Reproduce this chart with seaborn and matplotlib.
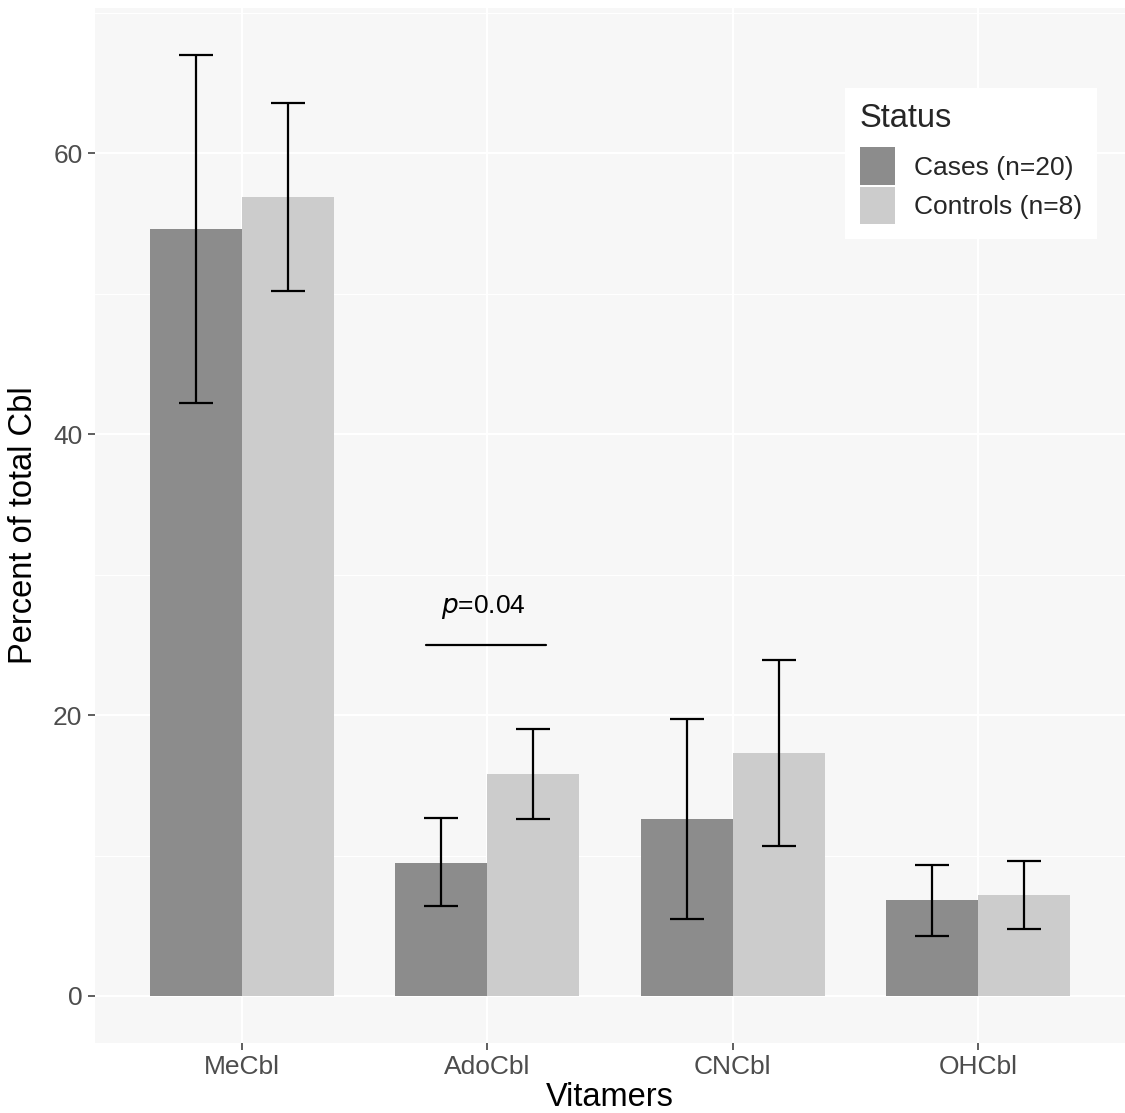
import matplotlib
matplotlib.use("Agg")
import matplotlib.pyplot as plt
import seaborn as sns
import pandas as pd
import numpy as np
from matplotlib.patches import Patch

# ---- data ----
vitamers = ["MeCbl", "AdoCbl", "CNCbl", "OHCbl"]
status_levels = ["Cases (n=20)", "Controls (n=8)"]
cases_mean = [54.6, 9.5, 12.6, 6.8]
cases_low = [42.2, 6.4, 5.5, 4.3]
cases_high = [67.0, 12.7, 19.7, 9.3]
controls_mean = [56.9, 15.8, 17.3, 7.2]
controls_low = [50.2, 12.6, 10.7, 4.8]
controls_high = [63.6, 19.0, 23.9, 9.6]
y_ticks = [0, 20, 40, 60]
sig_x = [0.75, 1.24]
sig_y = 25.0
sig_text_y = 27.7
sig_label = "=0.04"

df = pd.DataFrame({
    "Vitamers": vitamers * 2,
    "Status": [status_levels[0]] * 4 + [status_levels[1]] * 4,
    "value": cases_mean + controls_mean,
    "low": cases_low + controls_low,
    "high": cases_high + controls_high,
})

colors = ["#8C8C8C", "#CCCCCC"]

sns.set_theme(style="white")
plt.rcParams["font.family"] = ["Liberation Sans", "DejaVu Sans"]

fig = plt.figure(figsize=(11.25, 11.13), dpi=100)
W, H = 1125, 1113
left, right, top, bottom = 95, 1125, 8, 1043
ax = fig.add_axes([left / W, 1 - bottom / H, (right - left) / W, (bottom - top) / H])
ax.set_facecolor("#F7F7F7")

sns.barplot(data=df, x="Vitamers", y="value", hue="Status", order=vitamers,
            hue_order=status_levels, palette=colors, width=0.75, gap=0,
            errorbar=None, ax=ax, legend=False, saturation=1, linewidth=0)

# error bars at bar centers
for container, lows, highs, means in zip(ax.containers,
                                          [cases_low, controls_low],
                                          [cases_high, controls_high],
                                          [cases_mean, controls_mean]):
    xs = [p.get_x() + p.get_width() / 2 for p in container.patches]
    m = np.array(means)
    yerr = [m - np.array(lows), np.array(highs) - m]
    ax.errorbar(xs, m, yerr=yerr, fmt="none", ecolor="black", elinewidth=1.6,
                capsize=12, capthick=1.6, zorder=3)

# significance annotation
ax.plot(sig_x, [sig_y, sig_y], color="black", lw=1.6, zorder=3)
ax.text(np.mean(sig_x) - 0.01, sig_text_y, r"$\mathit{p}$" + sig_label, ha="center",
        va="center", fontsize=19, color="black")

# limits like ggplot expansion
ymin, ymax = 0, max(cases_high + controls_high)
rng = ymax - ymin
ax.set_ylim(ymin - 0.05 * rng, ymax + 0.05 * rng)
ax.set_xlim(-0.6, len(vitamers) - 1 + 0.6)

# grid
ax.set_yticks(y_ticks)
ax.set_yticks([10, 30, 50, 70], minor=True)
ax.grid(True, which="major", axis="both", color="white", lw=1.6, zorder=0)
ax.grid(True, which="minor", axis="y", color="white", lw=0.8, zorder=0)
ax.set_axisbelow(True)
for s in ax.spines.values():
    s.set_visible(False)

ax.tick_params(axis="both", which="major", length=5, width=1.1, color="#333333",
               labelsize=19, labelcolor="#4D4D4D", pad=4, bottom=True, left=True)
ax.tick_params(axis="both", which="minor", length=0)

ax.set_xlabel("Vitamers", fontsize=23.5, color="black", labelpad=2)
ax.set_ylabel("Percent of total Cbl", fontsize=23.5, color="black", labelpad=10)

handles = [Patch(facecolor=c, edgecolor="none") for c in colors]
leg = ax.legend(handles, status_levels, title="Status", loc="upper left",
                bbox_to_anchor=((845 - left) / (right - left), (bottom - 88) / (bottom - top)),
                fontsize=19, title_fontsize=23.5, frameon=True, fancybox=False,
                facecolor="white", edgecolor="white", framealpha=1,
                handlelength=1.36, handleheight=1.8, handletextpad=0.7,
                labelspacing=0.08, borderpad=0.55, borderaxespad=0)
leg._legend_box.align = "left"
leg._legend_box.sep = 10
leg.get_frame().set_linewidth(0)

fig.savefig("out.png", dpi=100, facecolor="white")
